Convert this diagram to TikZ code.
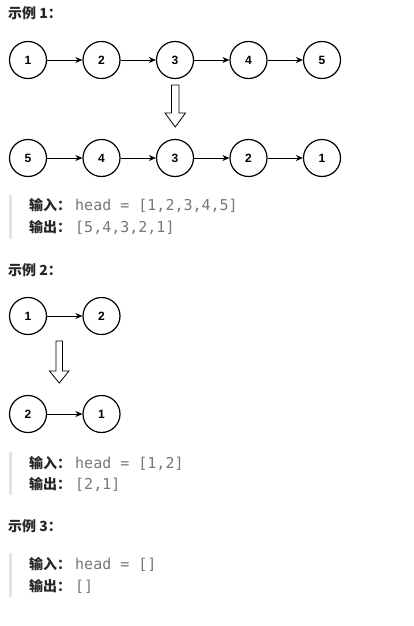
\documentclass[tikz,border=0pt]{standalone}
\usepackage{fontspec}
\setmainfont{Liberation Sans}
\newfontfamily\cjk{Noto Sans CJK SC}
\newfontfamily\codefont{DejaVu Sans Mono}
\usetikzlibrary{arrows.meta}
\definecolor{ink}{HTML}{262626}
\definecolor{codegray}{HTML}{777777}
\definecolor{quotebar}{HTML}{E3E3E3}

\begin{document}
\begin{tikzpicture}[x=1pt, y=-1pt,
	listnode/.style={circle, draw, line width=1.2pt, minimum size=37pt, inner sep=0pt, font=\fontsize{12}{12}\selectfont\bfseries},
	link/.style={-{Stealth[length=7pt, width=6pt]}, line width=0.8pt},
	flip/.style={draw, line width=0.8pt, fill=white},
	heading/.style={anchor=base west, inner sep=0pt, text=ink, font=\cjk\fontsize{14}{14}\selectfont\bfseries},
	key/.style={anchor=base west, inner sep=0pt, text=ink, font=\cjk\fontsize{14}{14}\selectfont\bfseries},
	value/.style={anchor=base west, inner sep=0pt, text=codegray, font=\codefont\fontsize{15}{15}\selectfont},
	bar/.style={quotebar, line width=2.5pt}]
		\useasboundingbox (0,0) rectangle (413,626);
		
		% example 1
		\node[heading] (h1) at (8,19) {示例 1：};
		\node[listnode] (11) at (28,60) {1};
		\node[listnode] (12) at (101.5,60) {2};
		\node[listnode] (13) at (175,60) {3};
		\node[listnode] (14) at (248.5,60) {4};
		\node[listnode] (15) at (322,60) {5};
		\draw[link] (11) -- (12);
		\draw[link] (12) -- (13);
		\draw[link] (13) -- (14);
		\draw[link] (14) -- (15);
		
		\draw[flip] (171.5,85) -- (179,85) -- (179,113) -- (185.5,113) -- (175.25,127) -- (165,113) -- (171.5,113) -- cycle;
		
		\node[listnode] (21) at (28,158) {5};
		\node[listnode] (22) at (101.5,158) {4};
		\node[listnode] (23) at (175,158) {3};
		\node[listnode] (24) at (248.5,158) {2};
		\node[listnode] (25) at (322,158) {1};
		\draw[link] (21) -- (22);
		\draw[link] (22) -- (23);
		\draw[link] (23) -- (24);
		\draw[link] (24) -- (25);
		
		\draw[bar] (10.5,195) -- (10.5,239);
		\node[key] (in1) at (29,210) {输入：};
		\node[value] (v1) at (75,210) {head = [1,2,3,4,5]};
		\node[key] (out1) at (29,232) {输出：};
		\node[value] (w1) at (75,232) {[5,4,3,2,1]};
		
		% example 2
		\node[heading] (h2) at (8,275) {示例 2：};
		\node[listnode] (31) at (28,316) {1};
		\node[listnode] (32) at (101.5,316) {2};
		\draw[link] (31) -- (32);
		
		\draw[flip] (56,341) -- (62.5,341) -- (62.5,371) -- (69,371) -- (59.25,383) -- (49.5,371) -- (56,371) -- cycle;
		
		\node[listnode] (41) at (28,414) {2};
		\node[listnode] (42) at (101.5,414) {1};
		\draw[link] (41) -- (42);
		
		\draw[bar] (10.5,452) -- (10.5,495);
		\node[key] (in2) at (29,468) {输入：};
		\node[value] (v2) at (75,468) {head = [1,2]};
		\node[key] (out2) at (29,489) {输出：};
		\node[value] (w2) at (75,489) {[2,1]};
		
		% example 3
		\node[heading] (h3) at (8,531) {示例 3：};
		\draw[bar] (10.5,553) -- (10.5,597);
		\node[key] (in3) at (29,569) {输入：};
		\node[value] (v3) at (75,569) {head = []};
		\node[key] (out3) at (29,591) {输出：};
		\node[value] (w3) at (75,591) {[]};
\end{tikzpicture}
\end{document}
